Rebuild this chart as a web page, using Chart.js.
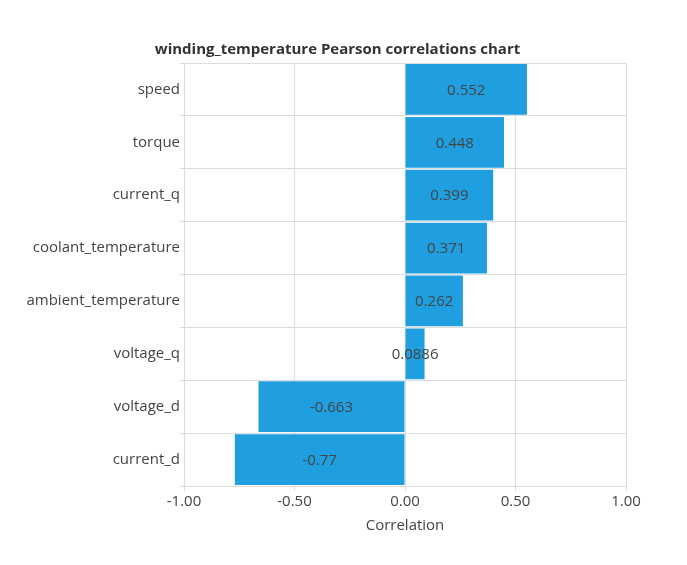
<!DOCTYPE html>
<html>
<head>
<meta charset="utf-8">
<script src="https://cdn.jsdelivr.net/npm/chart.js@4.4.0/dist/chart.umd.min.js"></script>
<style>
  html, body { margin: 0; padding: 0; background: #fff; }
  #wrap { width: 687px; height: 565px; }
</style>
</head>
<body>
<div id="wrap"><canvas id="myChart"></canvas></div>
<script>
const features = [
  "speed",
  "torque",
  "current_q",
  "coolant_temperature",
  "ambient_temperature",
  "voltage_q",
  "voltage_d",
  "current_d",
];
const correlations = [0.552, 0.448, 0.399, 0.371, 0.262, 0.0886, -0.663, -0.77];
const xTicks = [-1, -0.5, 0, 0.5, 1];
const chartTitle = "winding_temperature Pearson correlations chart";

const FONT = "'Open Sans', 'Noto Sans', sans-serif";

// writes each value in the middle of its bar
const barValues = {
  id: "barValues",
  afterDatasetsDraw(chart) {
    const ctx = chart.ctx;
    const meta = chart.getDatasetMeta(0);
    ctx.save();
    ctx.font = "15px " + FONT;
    ctx.fillStyle = "#444";
    ctx.textAlign = "center";
    ctx.textBaseline = "middle";
    meta.data.forEach((bar, i) => {
      const p = bar.getProps(["x", "y", "base"], true);
      ctx.fillText(String(correlations[i]), (p.x + p.base) / 2, p.y + 1);
    });
    ctx.restore();
  },
};

// title sits centred on the whole canvas, not on the plot
const topTitle = {
  id: "topTitle",
  afterDraw(chart) {
    const ctx = chart.ctx;
    ctx.save();
    ctx.font = "bold 15px " + FONT;
    ctx.fillStyle = "#333";
    ctx.textAlign = "center";
    ctx.textBaseline = "middle";
    ctx.fillText(chartTitle, chart.width / 2 - 6, chart.chartArea.top - 13);
    ctx.restore();
  },
};

new Chart(document.getElementById("myChart"), {
  type: "bar",
  data: {
    labels: features,
    datasets: [
      {
        label: "Correlation",
        data: correlations,
        backgroundColor: "#209fe0",
        borderWidth: 0,
        barPercentage: 0.96,
        categoryPercentage: 1,
      },
    ],
  },
  options: {
    indexAxis: "y",
    responsive: true,
    maintainAspectRatio: false,
    animation: false,
    layout: { padding: { top: 63, left: 8, right: 61, bottom: 26 } },
    plugins: {
      legend: { display: false },
      tooltip: { enabled: false },
      title: { display: false },
    },
    scales: {
      x: {
        min: -1,
        max: 1,
        afterBuildTicks(axis) {
          axis.ticks = xTicks.map((v) => ({ value: v }));
        },
        ticks: {
          color: "#444",
          font: { family: FONT, size: 15 },
          padding: 2,
          maxRotation: 0,
          callback: (v) => Number(v).toFixed(2),
        },
        grid: { color: "#dcdcdc", tickLength: 5 },
        border: { color: "#dcdcdc" },
        title: {
          display: true,
          text: "Correlation",
          color: "#444",
          font: { family: FONT, size: 15 },
          padding: { top: 4, bottom: 4 },
        },
      },
      y: {
        afterFit(axis) {
          axis.width = 176;
        },
        ticks: {
          color: "#444",
          font: { family: FONT, size: 15 },
          padding: 0,
        },
        grid: { color: "#dcdcdc", tickLength: 4 },
        border: { color: "#dcdcdc" },
      },
    },
  },
  plugins: [barValues, topTitle],
});
</script>
</body>
</html>
